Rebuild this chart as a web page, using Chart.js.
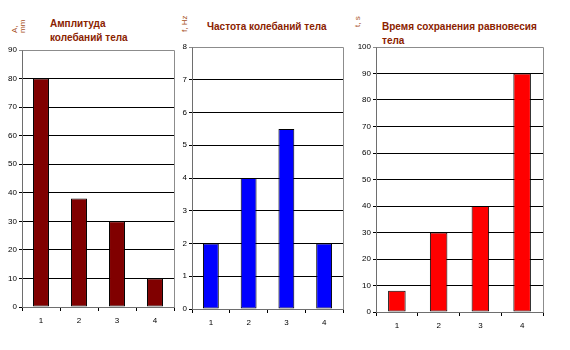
<!DOCTYPE html>
<html>
<head>
<meta charset="utf-8">
<script src="https://cdn.jsdelivr.net/npm/chart.js@4"></script>
<style>
  body { margin: 0; background: #fff; width: 570px; height: 350px; position: relative; overflow: hidden; font-family: "Liberation Sans", Arial, sans-serif; }
  canvas { position: absolute; top: 0; }
  .title { position: absolute; font-weight: bold; font-size: 10px; line-height: 14px; color: #8b2200; white-space: nowrap; }
  .axis-label { position: absolute; font-size: 8px; line-height: 8px; color: #a8501c; transform: rotate(-90deg); transform-origin: left top; white-space: nowrap; }
</style>
</head>
<body>
<div class="title" style="left:50px; top:17px;">Амплитуда<br>колебаний тела</div>
<div class="title" style="left:207px; top:20px;">Частота колебаний тела</div>
<div class="title" style="left:382px; top:20px;">Время сохранения равновесия<br>тела</div>
<div class="axis-label" style="left:11px; top:33px;">A,<br>mm</div>
<div class="axis-label" style="left:181px; top:32px;">f, Hz</div>
<div class="axis-label" style="left:354px; top:27px;">t, s</div>

<canvas id="ampChart" style="left:0;"></canvas>
<canvas id="freqChart" style="left:170px;"></canvas>
<canvas id="timeChart" style="left:350px;"></canvas>

<script>
// --- Data ---
const categories = ['1', '2', '3', '4'];
const amplitudeValues = [80, 38, 30, 10];
const frequencyValues = [2, 4, 5.5, 2];
const balanceTimeValues = [8, 30, 40, 90];

// draws the grey top/right frame of the plot area
const plotFrame = {
  id: 'plotFrame',
  afterDatasetsDraw(chart) {
    const { ctx, chartArea: a } = chart;
    ctx.save();
    ctx.strokeStyle = '#8c8c8c';
    ctx.lineWidth = 1;
    ctx.beginPath();
    ctx.moveTo(Math.round(a.left) + 0.5, Math.round(a.top) + 0.5);
    ctx.lineTo(Math.round(a.right) + 0.5, Math.round(a.top) + 0.5);
    ctx.lineTo(Math.round(a.right) + 0.5, Math.round(a.bottom) + 0.5);
    ctx.stroke();
    ctx.restore();
  }
};

function makeChart(canvasId, size, values, color, yMax, yStep, box) {
  const canvas = document.getElementById(canvasId);
  canvas.width = size.w;
  canvas.height = size.h;
  canvas.style.width = size.w + 'px';
  canvas.style.height = size.h + 'px';

  return new Chart(canvas.getContext('2d'), {
    type: 'bar',
    data: {
      labels: categories,
      datasets: [{
        data: values,
        backgroundColor: color,
        borderColor: '#000',
        borderWidth: 1,
        borderSkipped: false,
        barPercentage: 0.42,
        categoryPercentage: 1
      }]
    },
    options: {
      responsive: false,
      animation: false,
      layout: { padding: { top: box.top, right: box.right, left: 0, bottom: 0 } },
      plugins: { legend: { display: false }, tooltip: { enabled: false } },
      scales: {
        x: {
          grid: { display: true, drawOnChartArea: false, drawTicks: true, tickLength: 4, color: '#000', offset: true },
          border: { color: '#6e6e6e' },
          ticks: { color: '#000', font: { family: 'Liberation Sans', size: 8 }, padding: 5 },
          afterFit: s => { s.height = box.xh; }
        },
        y: {
          min: 0,
          max: yMax,
          grid: {
            color: c => (c.tick && c.tick.value === yMax ? '#8c8c8c' : '#000'),
            tickLength: 3
          },
          border: { color: '#6e6e6e' },
          ticks: { stepSize: yStep, color: '#000', font: { family: 'Liberation Sans', size: 8 }, padding: 2 },
          afterFit: s => { s.width = box.yw; }
        }
      }
    },
    plugins: [plotFrame]
  });
}

document.addEventListener('DOMContentLoaded', () => {
  makeChart('ampChart', { w: 180, h: 340 }, amplitudeValues, '#800000', 90, 10,
    { top: 50, right: 6, yw: 22, xh: 33 });
  makeChart('freqChart', { w: 180, h: 340 }, frequencyValues, '#0000ff', 8, 1,
    { top: 47, right: 7, yw: 22, xh: 31 });
  makeChart('timeChart', { w: 220, h: 340 }, balanceTimeValues, '#ff0000', 100, 10,
    { top: 47, right: 27, yw: 26, xh: 28 });
});
</script>
</body>
</html>
